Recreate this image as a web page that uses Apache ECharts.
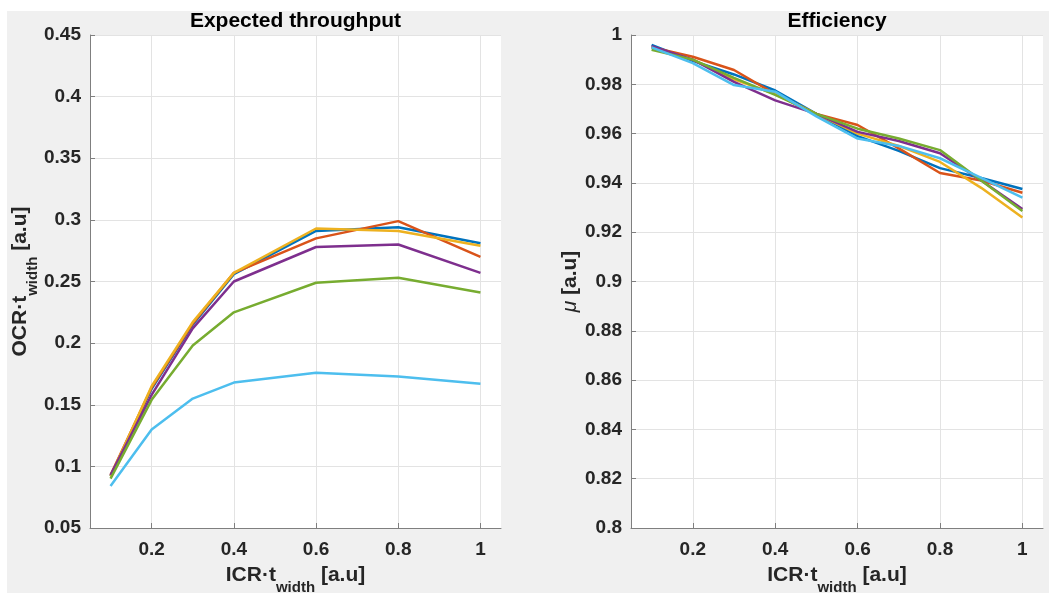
<!DOCTYPE html>
<html>
<head>
<meta charset="utf-8">
<script src="https://cdn.jsdelivr.net/npm/echarts@6/dist/echarts.min.js"></script>
<style>
  html, body { margin: 0; padding: 0; background: #ffffff; }
  #chart { width: 1049px; height: 593px; }
</style>
</head>
<body>
<div id="chart"></div>
<script>
// Sample points along ICR·t_width for each panel
const xThroughput = [0.1, 0.2, 0.3, 0.4, 0.6, 0.8, 1.0];
const xEfficiency = [0.1, 0.2, 0.3, 0.4, 0.5, 0.6, 0.7, 0.8, 0.9, 1.0];
const xTickValues = [0.2, 0.4, 0.6, 0.8, 1];

// Expected throughput (OCR·t_width), one list per curve
const thrBlue      = [0.092, 0.163, 0.215, 0.256, 0.291, 0.294, 0.281];
const thrOrange    = [0.093, 0.164, 0.216, 0.257, 0.285, 0.299, 0.270];
const thrYellow    = [0.092, 0.165, 0.217, 0.257, 0.293, 0.291, 0.279];
const thrPurple    = [0.093, 0.158, 0.212, 0.250, 0.278, 0.280, 0.257];
const thrGreen     = [0.090, 0.154, 0.198, 0.225, 0.249, 0.253, 0.241];
const thrLightBlue = [0.084, 0.130, 0.155, 0.168, 0.176, 0.173, 0.167];

// Efficiency (μ), one list per curve
const effBlue      = [0.996, 0.9895, 0.984, 0.9775, 0.968, 0.959, 0.953, 0.946, 0.942, 0.9375];
const effOrange    = [0.995, 0.9912, 0.9858, 0.976, 0.968, 0.9635, 0.954, 0.944, 0.941, 0.936];
const effYellow    = [0.995, 0.990, 0.982, 0.976, 0.968, 0.960, 0.955, 0.9485, 0.938, 0.926];
const effPurple    = [0.9955, 0.990, 0.981, 0.9735, 0.968, 0.9607, 0.957, 0.952, 0.941, 0.9294];
const effGreen     = [0.994, 0.990, 0.9826, 0.9757, 0.968, 0.962, 0.958, 0.9533, 0.941, 0.9286];
const effLightBlue = [0.995, 0.9886, 0.9797, 0.9770, 0.967, 0.958, 0.955, 0.950, 0.942, 0.934];

const colors = ['#0072BD', '#D95319', '#EDB120', '#7E2F8E', '#77AC30', '#4DBEEE'];
const thrSeries = [thrBlue, thrOrange, thrYellow, thrPurple, thrGreen, thrLightBlue];
const effSeries = [effBlue, effOrange, effYellow, effPurple, effGreen, effLightBlue];

const FONT = '"Liberation Sans", Arial, Helvetica, sans-serif';
const tickColor = '#262626';
const axisColor = '#7f7f7f';
const gridColor = '#e3e3e3';

// Axis titles: main text aligned to the top of the line box, subscript to its bottom
const nameRich = {
  a: { fontFamily: FONT, fontWeight: 'bold', fontSize: 21, color: tickColor, lineHeight: 24, verticalAlign: 'top' },
  s: { fontFamily: FONT, fontWeight: 'bold', fontSize: 15, color: tickColor, lineHeight: 30, verticalAlign: 'bottom' },
  i: { fontFamily: FONT, fontStyle: 'italic', fontWeight: 'normal', fontSize: 21, color: tickColor, lineHeight: 24, verticalAlign: 'top' }
};

function xAxisFor(gridIndex) {
  return {
    type: 'value', gridIndex, min: 0.05, max: 1.05,
    name: '{a|ICR·t}{s|width}{a| [a.u]}',
    nameLocation: 'middle', nameGap: 37,
    nameTextStyle: { rich: nameRich },
    axisLine: { show: true, lineStyle: { color: axisColor, width: 1 } },
    axisTick: { show: true, inside: true, length: 5, customValues: xTickValues, lineStyle: { color: axisColor } },
    axisLabel: { customValues: xTickValues, margin: 12, fontFamily: FONT, fontWeight: 'bold', fontSize: 19, color: tickColor,
      formatter: v => String(+v.toFixed(2)) },
    splitLine: { show: true, lineStyle: { color: gridColor, width: 1 } }
  };
}

function yAxisFor(gridIndex, min, max, interval, name, gap, decimals) {
  return {
    type: 'value', gridIndex, min, max, interval,
    name, nameLocation: 'middle', nameGap: gap,
    nameTextStyle: { rich: nameRich },
    axisLine: { show: true, lineStyle: { color: axisColor, width: 1 } },
    axisTick: { show: true, inside: true, length: 5, lineStyle: { color: axisColor } },
    axisLabel: { margin: 9, fontFamily: FONT, fontWeight: 'bold', fontSize: 19, color: tickColor,
      formatter: v => String(+v.toFixed(decimals)) },
    splitLine: { show: true, lineStyle: { color: gridColor, width: 1 } }
  };
}

function lineSeries(xs, ys, color, idx) {
  return {
    type: 'line', xAxisIndex: idx, yAxisIndex: idx,
    data: xs.map((x, i) => [x, ys[i]]),
    symbol: 'none', silent: true, animation: false,
    lineStyle: { color, width: 2.5 }
  };
}

const chart = echarts.init(document.getElementById('chart'), null, { renderer: 'canvas' });
chart.setOption({
  animation: false,
  backgroundColor: '#ffffff',
  graphic: [
    { type: 'rect', z: -10, shape: { x: 7, y: 11, width: 1042, height: 582 }, style: { fill: '#f0f0f0' } },
    { type: 'text', x: 295.5, y: 21, style: { text: 'Expected throughput', font: 'bold 21px ' + FONT, fill: '#000', align: 'center', verticalAlign: 'middle' } },
    { type: 'text', x: 837, y: 21, style: { text: 'Efficiency', font: 'bold 21px ' + FONT, fill: '#000', align: 'center', verticalAlign: 'middle' } }
  ],
  grid: [
    { left: 90, top: 35, width: 411, height: 493, show: true, backgroundColor: '#ffffff', borderWidth: 0, outerBoundsMode: 'none', containLabel: false },
    { left: 631, top: 35, width: 412, height: 493, show: true, backgroundColor: '#ffffff', borderWidth: 0, outerBoundsMode: 'none', containLabel: false }
  ],
  xAxis: [xAxisFor(0), xAxisFor(1)],
  yAxis: [
    yAxisFor(0, 0.05, 0.45, 0.05, '{a|OCR·t}{s|width}{a| [a.u]}', 44, 2),
    yAxisFor(1, 0.8, 1.0, 0.02, '{i|μ}{a| [a.u]}', 47, 2)
  ],
  series: [
    ...thrSeries.map((ys, k) => lineSeries(xThroughput, ys, colors[k], 0)),
    ...effSeries.map((ys, k) => lineSeries(xEfficiency, ys, colors[k], 1))
  ]
});
</script>
</body>
</html>
